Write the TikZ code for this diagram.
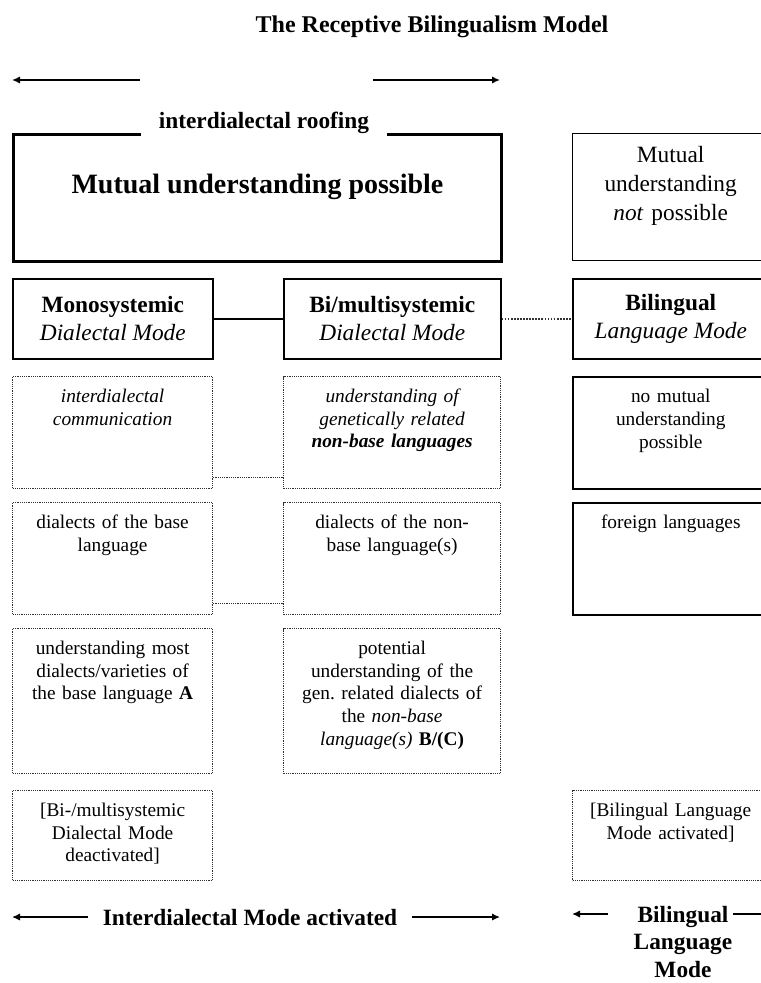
\documentclass[tikz,border=0pt]{standalone}
\usepackage{fontspec}
\setmainfont{Liberation Serif}[
  BoldFont={Liberation Serif Bold},
  ItalicFont={Liberation Serif Italic},
  BoldItalicFont={Liberation Serif Bold Italic}]
\usetikzlibrary{arrows.meta}
\definecolor{dotcol}{RGB}{50,50,50}

\begin{document}
\begin{tikzpicture}[x=0.75pt,y=-0.75pt,>={Latex[length=6pt,width=5.5pt]},
  headtxt/.style={font=\fontsize{17.5}{21}\selectfont\bfseries},
  bodytxt/.style={font=\fontsize{14.5}{17}\selectfont},
  cell/.style={bodytxt,draw,anchor=north west,align=center,inner xsep=2pt,inner ysep=0pt},
  dotcell/.style={cell,draw=dotcol,line width=0.9pt,dash pattern=on 0.9pt off 0.75pt},
  fullcell/.style={cell,line width=1.2pt},
  modebox/.style={draw,line width=1.2pt,anchor=north west,align=center,
    minimum height=60pt,inner sep=0pt,font=\fontsize{17.5}{21}\selectfont},
  colA/.style={text width=146pt},
  colB/.style={text width=158.75pt},
  colC/.style={text width=143pt},
  rowS/.style={text height=19.5pt,text depth=64.5pt},
  rowL/.style={text height=19.5pt,text depth=89.25pt},
  rowT/.style={text height=19.5pt,text depth=48pt},
  arr/.style={->,line width=1.1pt},
  dotline/.style={draw=dotcol,line width=0.9pt,dash pattern=on 0.9pt off 0.75pt}]
  \useasboundingbox (0,0) rectangle (761,983);

  \node[font=\fontsize{18}{21}\selectfont\bfseries,anchor=base] (title) at (432,32)
    {The Receptive Bilingualism Model};

  % arrows above the roofing
  \coordinate (ta1) at (140,80);
  \coordinate (ta2) at (12,80);
  \coordinate (ta3) at (373,80);
  \coordinate (ta4) at (500,80);
  \draw[arr] (ta1) -- (ta2);
  \draw[arr] (ta3) -- (ta4);

  % top row
  \node[draw,line width=2.25pt,anchor=north west,minimum width=366pt,inner sep=0pt,
    text height=44.25pt,text depth=51pt,font=\fontsize{21}{25}\selectfont\bfseries]
    (possible) at (12,133) {Mutual understanding possible};
  \node[headtxt,fill=white,inner xsep=13.5pt,inner ysep=3pt,anchor=base]
    (roofing) at (264,128) {interdialectal roofing};
  \node[draw,line width=1pt,anchor=north west,text width=143pt,inner xsep=2pt,
    inner ysep=0pt,align=center,text height=21.75pt,text depth=73.5pt,
    font=\fontsize{17.5}{21.5}\selectfont]
    (notposs) at (572,133) {Mutual\\understanding\\\textit{not} possible};

  % the three modes
  \node[modebox,minimum width=150pt] (mono) at (12,278)
    {\textbf{Monosystemic}\\\textit{Dialectal Mode}};
  \node[modebox,minimum width=162.75pt] (bimulti) at (283,278)
    {\textbf{Bi/multisystemic}\\\textit{Dialectal Mode}};
  \node[modebox,minimum width=147pt] (biling) at (572,278)
    {\textbf{Bilingual}\\\textit{Language Mode}};
  \draw[line width=1.1pt] (mono.east) -- (bimulti.west);
  \draw[dotline,line width=1.3pt,dash pattern=on 1.3pt off 1pt] (bimulti.east) -- (biling.west);

  % row 3
  \node[dotcell,colA,rowS] (interc) at (12,376)
    {\textit{interdialectal\\communication}};
  \node[dotcell,colB,rowS] (genrel) at (283,376)
    {\textit{understanding of\\genetically related\\\textbf{non-base languages}}};
  \node[fullcell,colC,rowS] (nomutual) at (572,376)
    {no mutual\\understanding\\possible};
  \draw[dotline] ([yshift=9pt]interc.south east) -- ([yshift=9pt]genrel.south west);

  % row 4
  \node[dotcell,colA,rowS] (basedia) at (12,502)
    {dialects of the base\\language};
  \node[dotcell,colB,rowS] (nonbasedia) at (283,502)
    {dialects of the non-\\base language(s)};
  \node[fullcell,colC,rowS] (foreign) at (572,502)
    {foreign languages};
  \draw[dotline] ([yshift=9pt]basedia.south east) -- ([yshift=9pt]nonbasedia.south west);

  % row 5
  \node[dotcell,colA,rowL] (mostdia) at (12,628)
    {understanding most\\dialects/varieties of\\the base language \textbf{A}};
  \node[dotcell,colB,rowL] (potential) at (283,628)
    {potential\\understanding of the\\gen.\ related dialects of\\the \textit{non-base}\\\textit{language(s)} \textbf{B/(C)}};

  % row 6
  \node[dotcell,colA,rowT] (deact) at (12,790)
    {[Bi-/multisystemic\\Dialectal Mode\\deactivated]};
  \node[dotcell,colC,rowT] (act) at (572,790)
    {[Bilingual Language\\Mode activated]};

  % bottom labels
  \coordinate (xl) at (12,0);
  \coordinate (xr) at (500,0);
  \node[headtxt,anchor=base,inner xsep=11pt] (interdial) at (250,925)
    {Interdialectal Mode activated};
  \draw[arr] (interdial.west) -- (interdial.west -| xl);
  \draw[arr] (interdial.east) -- (interdial.east -| xr);

  \node[headtxt,align=center,anchor=north,inner sep=0pt,
    font=\fontsize{17.5}{20.5}\selectfont\bfseries] (bilmode) at (683,906)
    {Bilingual\\Language\\Mode};
  \coordinate (ba1) at (608,914);
  \coordinate (ba2) at (572,914);
  \coordinate (ba3) at (733,914);
  \coordinate (ba4) at (770,914);
  \draw[arr] (ba1) -- (ba2);
  \draw[arr] (ba3) -- (ba4);
\end{tikzpicture}
\end{document}
